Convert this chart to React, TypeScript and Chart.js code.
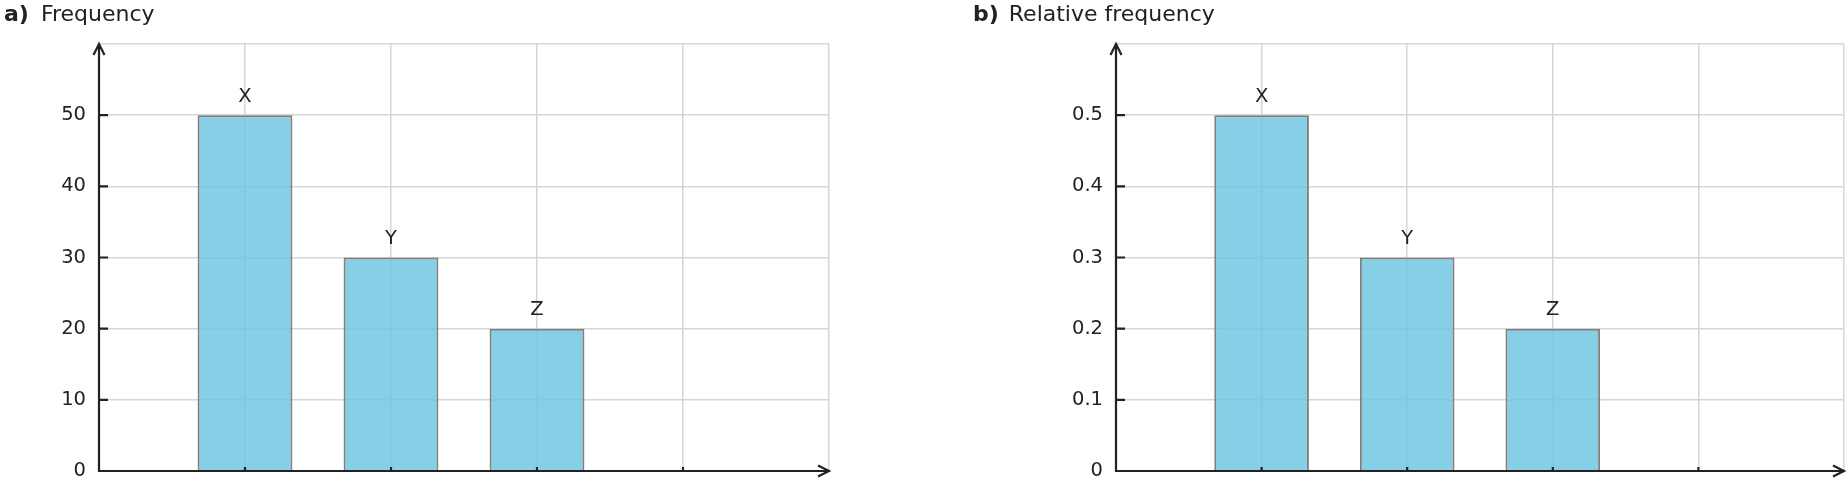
import { useRef, useEffect } from 'react'
import { Chart, registerables } from 'chart.js'

Chart.register(...registerables)

const categories = ['X', 'Y', 'Z']
const frequencies = [50, 30, 20]
const relativeFrequencies = [0.5, 0.3, 0.2]

const freqTicks = { max: 60, step: 10 }
const relTicks = { max: 0.6, step: 0.1 }

const INK = '#222222'
const GRID = '#d6d6d6'
const FONT = "'DejaVu Sans', sans-serif"

const arrowAxes = {
  id: 'arrowAxes',
  afterDatasetsDraw(chart: any) {
    const { ctx, chartArea: a, scales } = chart
    const xs = scales.x
    const ys = scales.y
    ctx.save()
    ctx.strokeStyle = INK
    ctx.lineWidth = 2.2

    // small tick marks
    ctx.beginPath()
    ys.ticks.forEach((t: any) => {
      if (t.value >= ys.max - 1e-9) return
      const py = ys.getPixelForValue(t.value)
      ctx.moveTo(a.left, py)
      ctx.lineTo(a.left + 9, py)
    })
    xs.ticks.forEach((t: any) => {
      if (t.value <= 0 || t.value >= xs.max) return
      const px = xs.getPixelForValue(t.value)
      ctx.moveTo(px, a.bottom)
      ctx.lineTo(px, a.bottom - 4)
    })
    ctx.stroke()

    // axis lines with open arrowheads
    ctx.beginPath()
    ctx.moveTo(a.left, a.bottom + 1)
    ctx.lineTo(a.left, a.top)
    ctx.moveTo(a.left - 1, a.bottom)
    ctx.lineTo(a.right, a.bottom)
    ctx.stroke()

    ctx.lineJoin = 'miter'
    ctx.beginPath()
    ctx.moveTo(a.left - 5.5, a.top + 11)
    ctx.lineTo(a.left, a.top)
    ctx.lineTo(a.left + 5.5, a.top + 11)
    ctx.moveTo(a.right - 11, a.bottom - 5.5)
    ctx.lineTo(a.right, a.bottom)
    ctx.lineTo(a.right - 11, a.bottom + 5.5)
    ctx.stroke()

    // category names over the bars
    ctx.fillStyle = INK
    ctx.font = `19.5px ${FONT}`
    ctx.textAlign = 'center'
    ctx.textBaseline = 'alphabetic'
    chart.getDatasetMeta(0).data.forEach((bar: any, i: number) => {
      ctx.fillText(categories[i], bar.x, bar.y - 13.5)
    })
    ctx.restore()
  },
}

interface PanelProps {
  values: number[]
  yMax: number
  yStep: number
  axisWidth: number
  padRight: number
}

function Panel({ values, yMax, yStep, axisWidth, padRight }: PanelProps) {
  const canvasRef = useRef<HTMLCanvasElement>(null)
  const chartRef = useRef<Chart | null>(null)

  useEffect(() => {
    if (!canvasRef.current) return
    chartRef.current?.destroy()

    chartRef.current = new Chart(canvasRef.current, {
      type: 'bar',
      data: {
        datasets: [
          {
            data: values.map((v, i) => ({ x: i + 1, y: v })),
            backgroundColor: 'rgba(108,197,226,0.82)',
            borderColor: '#808080',
            borderWidth: 2,
            barPercentage: 0.65,
            categoryPercentage: 1,
          },
        ],
      },
      options: {
        animation: false,
        responsive: false,
        devicePixelRatio: 1,
        layout: { padding: { top: 44, bottom: 15, left: 0, right: padRight } },
        scales: {
          x: {
            type: 'linear',
            min: 0,
            max: 5,
            offset: false,
            ticks: { display: false, stepSize: 1 },
            grid: { color: GRID, lineWidth: 1.5, drawTicks: false, offset: false },
            border: { display: false },
            afterFit: (s: any) => {
              s.height = 0
              s.paddingLeft = 0
              s.paddingRight = 0
            },
          },
          y: {
            min: 0,
            max: yMax,
            ticks: {
              stepSize: yStep,
              padding: 13,
              color: INK,
              font: { family: FONT, size: 19.5 },
              callback: (v: any) => (Number(v) >= yMax - 1e-9 ? '' : String(Math.round(Number(v) * 10) / 10)),
            },
            grid: { color: GRID, lineWidth: 1.5, drawTicks: false },
            border: { display: false },
            afterFit: (s: any) => {
              s.width = axisWidth
              s.paddingTop = 0
              s.paddingBottom = 0
            },
          },
        },
        plugins: {
          legend: { display: false },
          tooltip: { enabled: false },
        },
      },
      plugins: [arrowAxes],
    })

    return () => {
      chartRef.current?.destroy()
      chartRef.current = null
    }
  }, [values, yMax, yStep, axisWidth, padRight])

  return <canvas ref={canvasRef} width={924} height={486} style={{ width: 924, height: 486, display: 'block' }} />
}

const titleStyle: React.CSSProperties = {
  position: 'absolute',
  top: 3,
  fontFamily: FONT,
  fontSize: 22,
  lineHeight: '22px',
  color: INK,
  whiteSpace: 'nowrap',
}

export default function App() {
  return (
    <div style={{ position: 'absolute', left: 0, top: 0, width: 1848, height: 486, background: '#fff', overflow: 'hidden' }}>
      <div style={{ position: 'absolute', left: 0, top: 0 }}>
        <Panel values={frequencies} yMax={freqTicks.max} yStep={freqTicks.step} axisWidth={99} padRight={95} />
      </div>
      <div style={{ position: 'absolute', left: 924, top: 0 }}>
        <Panel values={relativeFrequencies} yMax={relTicks.max} yStep={relTicks.step} axisWidth={192} padRight={4} />
      </div>
      <div style={{ ...titleStyle, left: 4 }}>
        <b>a)</b> <span style={{ marginLeft: 5 }}>Frequency</span>
      </div>
      <div style={{ ...titleStyle, left: 973 }}>
        <b>b)</b> <span style={{ marginLeft: 3 }}>Relative frequency</span>
      </div>
    </div>
  )
}
